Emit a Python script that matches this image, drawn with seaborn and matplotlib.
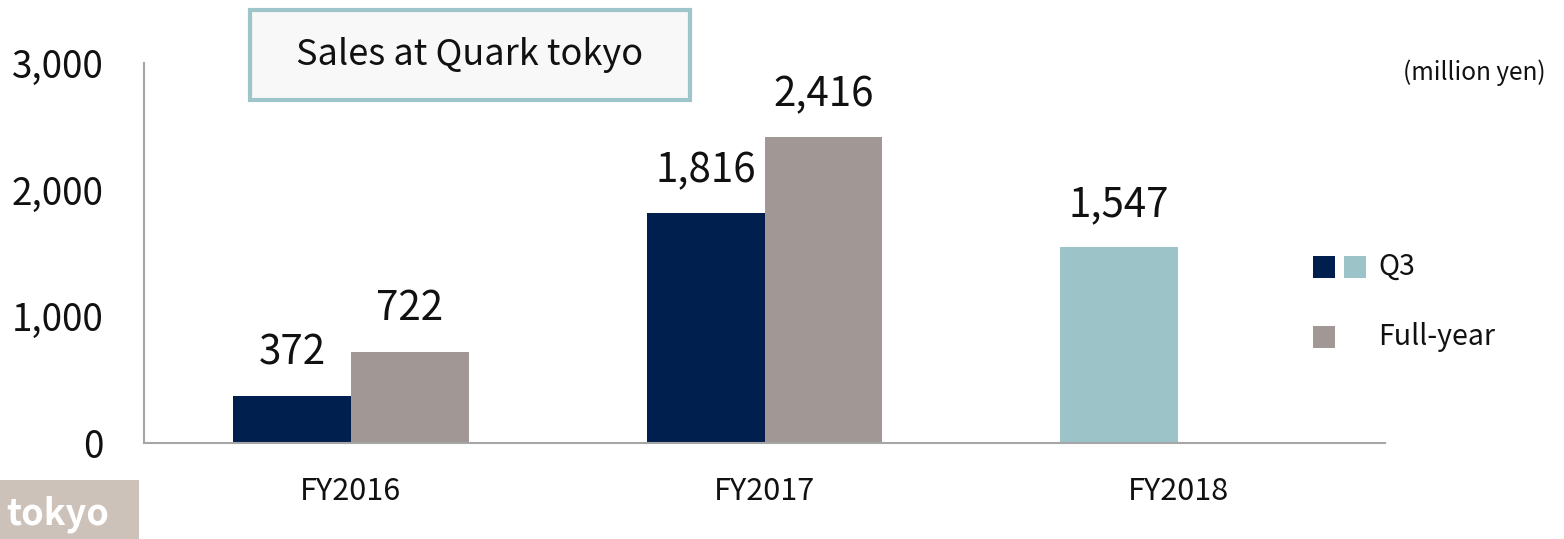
import matplotlib
matplotlib.use("Agg")
import matplotlib.pyplot as plt
from matplotlib.patches import Rectangle
import seaborn as sns
import pandas as pd

# ---- data ----
years = ["FY2016", "FY2017", "FY2018"]
q3_sales = [372, 1816, 1547]
full_year_sales = [722, 2416, None]
series_names = ["Q3", "Full-year"]
y_ticks = [0, 1000, 2000, 3000]
y_tick_labels = ["0", "1,000", "2,000", "3,000"]

NAVY = "#001E4E"
TEAL = "#9BC3C8"
GRAY = "#A19795"

sns.set_theme(style="white")
plt.rcParams['font.family'] = ['Noto Sans CJK JP', 'DejaVu Sans']

rows = []
for y, q, f in zip(years, q3_sales, full_year_sales):
    rows.append({"year": y, "series": series_names[0], "value": q})
    rows.append({"year": y, "series": series_names[1], "value": f})
df = pd.DataFrame(rows)

fig = plt.figure(figsize=(15.64, 5.39), dpi=100)
ax = fig.add_axes([144/1564, 96/539, (1385-144)/1564, (443-63)/539])

sns.barplot(data=df, x="year", y="value", hue="series", order=years,
            hue_order=series_names, palette=[NAVY, GRAY], width=0.57,
            saturation=1, ax=ax, legend=False, errorbar=None)

# recolor FY2018 Q3 bar (light teal) and label bars
for ci, (cont, vals) in enumerate(zip(ax.containers, [q3_sales, full_year_sales])):
    for i, (bar, v) in enumerate(zip(cont.patches, vals)):
        bar.set_edgecolor("none")
        if v is None:
            continue
        if ci == 0 and years[i] == "FY2018":
            bar.set_facecolor(TEAL)
        ax.annotate(f"{v:,}", (bar.get_x() + bar.get_width()/2, v),
                    xytext=(0, 16), textcoords="offset points",
                    ha="center", va="bottom", fontsize=29, color="#111111")

ax.set_xlim(-0.5, 2.5)
ax.set_ylim(0, 3000)
ax.set_yticks(y_ticks)
ax.set_yticklabels(y_tick_labels, fontsize=26.5, color="#111111")
ax.tick_params(axis="x", labelsize=22, colors="#111111", pad=24, length=0)
ax.tick_params(axis="y", pad=29, length=0)
ax.set_xlabel("")
ax.set_ylabel("")
for s in ["top", "right"]:
    ax.spines[s].set_visible(False)
for s in ["left", "bottom"]:
    ax.spines[s].set_color("#A6A6A6")
    ax.spines[s].set_linewidth(1.5)

# title box
fig.patches.append(Rectangle((250/1564, 1-100/539), 440/1564, 90/539,
                             transform=fig.transFigure, facecolor="#F8F8F8",
                             edgecolor="#9EC5C9", linewidth=3))
fig.text(470/1564, 1-55/539, "Sales at Quark tokyo", ha="center", va="center",
         fontsize=26, color="#111111")

# unit
fig.text(1546/1564, 1-73/539, "(million yen)", ha="right", va="center",
         fontsize=17.5, color="#111111")

# legend
def sq(x, y, c):
    fig.patches.append(Rectangle((x/1564, 1-(y+22)/539), 22/1564, 22/539,
                                 transform=fig.transFigure, facecolor=c,
                                 edgecolor="none"))
sq(1313, 256, NAVY)
sq(1344, 256, TEAL)
sq(1313, 326, GRAY)
fig.text(1378/1564, 1-267/539, series_names[0], va="center", fontsize=20.5, color="#111111")
fig.text(1378/1564, 1-337/539, series_names[1], va="center", fontsize=20.5, color="#111111")

# tokyo logo
fig.patches.append(Rectangle((0, 0), 139/1564, 59/539, transform=fig.transFigure,
                             facecolor="#CDC2BA", edgecolor="none"))
fig.text(6/1564, 1-514/539, "tokyo", va="center", ha="left", fontsize=26,
         fontweight="bold", color="white")

fig.savefig("out.png", dpi=100)
